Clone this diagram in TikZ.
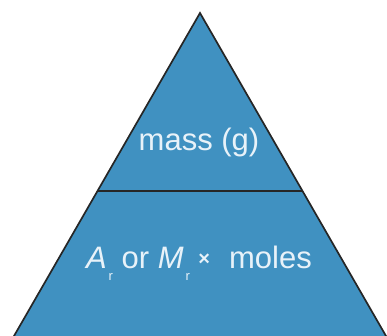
\documentclass[tikz,border=0pt]{standalone}
\usepackage{fontspec}
\setmainfont{Liberation Sans}
\usetikzlibrary{calc}
\definecolor{pyrblue}{RGB}{64,145,193}
\definecolor{pyrtext}{RGB}{232,242,249}
\tikzstyle{layer} = [fill=pyrblue, draw=black!85, line width=1.7pt, line join=miter]
\tikzstyle{label} = [text=pyrtext, font=\fontsize{31}{36}\selectfont, inner sep=0pt]
\newcommand{\subr}{\hspace{0.06em}\raisebox{-0.4em}{\fontsize{13}{13}\selectfont r}}

\begin{document}
\begin{tikzpicture}[x=1pt, y=-1pt]
\useasboundingbox (0,0) rectangle (387,336);
\clip (0,0) rectangle (387,336);

% Corners of the pyramid
\coordinate (apex) at (200,13);
\coordinate (baseleft) at ($(apex)!1.06!(14,336)$);
\coordinate (baseright) at ($(apex)!1.06!(386,336)$);
\coordinate (divleft) at ($(apex)!0.551!(14,336)$);
\coordinate (divright) at ($(apex)!0.551!(386,336)$);

% Pyramid and its divider
\draw [layer] (apex) -- (baseright) -- (baseleft) -- cycle;
\draw [black!85, line width=1.7pt] (divleft) -- (divright);

% Texts
\node (mass) [label] at (199,142) {mass (g)};
\node (moles) [label] at (199,263) {\textit{A}\subr{} or \textit{M}\subr{} {\fontsize{20}{20}\selectfont\bfseries\raisebox{0.15em}{×}}\,\, moles};

\end{tikzpicture}
\end{document}
